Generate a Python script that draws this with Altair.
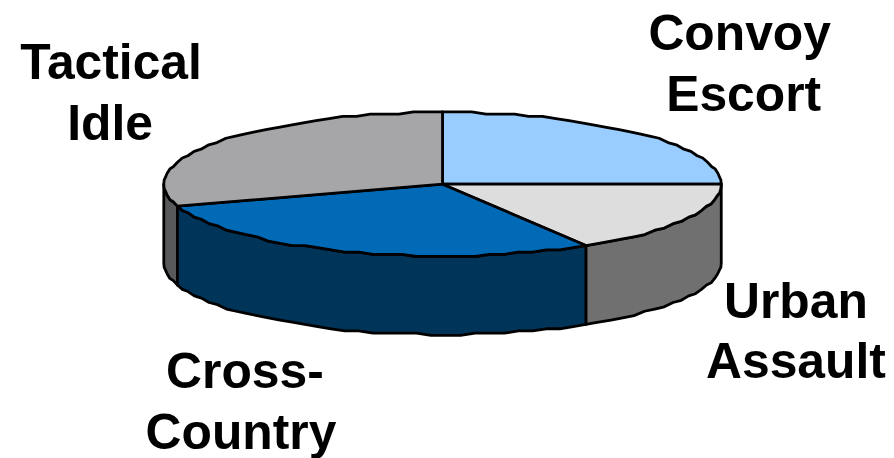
import math
import altair as alt

# --- chart values ---
categories = ["Convoy Escort", "Urban Assault", "Cross-Country", "Tactical Idle"]
shares = [25.0, 16.4, 28.6, 30.0]
top_colors = ["#99CCFF", "#DDDDDD", "#006AB7", "#A6A6A9"]
wall_colors = ["#99CCFF", "#707070", "#003459", "#58595B"]
label_lines = ["Convoy", "Escort", "Urban", "Assault", "Cross-", "Country", "Tactical", "Idle"]

# --- layout ---
W, H = 878, 442
CX, CY, RX, RY, DEPTH = 436.5, 176.0, 280.0, 72.0, 79.0
label_pos = [(735, 41), (739, 102), (791.5, 310), (791.5, 371), (238, 381), (234, 442), (103.5, 70), (102.5, 132)]
GRID = 2.2


def rim(t_deg, drop=0.0):
    t = math.radians(t_deg)
    x = CX + RX * math.sin(t)
    y = CY - RY * math.cos(t) + drop
    return [round(x, 1), round(y / GRID) * GRID]


def arc(a, b, drop=0.0):
    n = max(2, int(abs(b - a) / 3))
    return [rim(a + (b - a) * i / n, drop) for i in range(n + 1)]


edges = [0.0]
for s in shares:
    edges.append(edges[-1] + s / sum(shares) * 360)

tops, walls = [], []
for i, name in enumerate(categories):
    a, b = edges[i], edges[i + 1]
    ring = [[CX, CY]] + arc(a, b) + [[CX, CY]]
    tops.append({"type": "Feature", "properties": {"name": name},
                 "geometry": {"type": "Polygon", "coordinates": [ring]}})
    # only the front half of the drum can be seen
    va, vb = max(a, 90.0), min(b, 270.0)
    if vb > va:
        ring = arc(va, vb) + arc(vb, va, DEPTH)
        ring.append(ring[0])
        walls.append({"type": "Feature", "properties": {"name": name},
                      "geometry": {"type": "Polygon", "coordinates": [ring]}})

frame = [{"type": "Feature", "properties": {"name": "frame"},
          "geometry": {"type": "Polygon",
                       "coordinates": [[[0, 0], [W, 0], [W, H], [0, H], [0, 0]]]}}]
wall_order = {"Tactical Idle": 0, "Urban Assault": 1, "Cross-Country": 2}
walls.sort(key=lambda f: wall_order[f["properties"]["name"]])


def shape_layer(features, colors):
    return (
        alt.Chart(alt.Data(values=features))
        .mark_geoshape(stroke="#000000", strokeWidth=2.8, strokeJoin="round")
        .encode(color=alt.Color("properties.name:N",
                                scale=alt.Scale(domain=categories, range=colors),
                                legend=None))
        .project(type="identity")
    )


frame_layer = (
    alt.Chart(alt.Data(values=frame))
    .mark_geoshape(fill="transparent", stroke="transparent", strokeWidth=0)
    .project(type="identity")
)

layers = [frame_layer, shape_layer(walls, wall_colors), shape_layer(tops, top_colors)]
for line, (px, py) in zip(label_lines, label_pos):
    layers.append(
        alt.Chart(alt.Data(values=[{"label": line}]))
        .mark_text(font="Liberation Sans", fontWeight="bold", fontSize=50,
                   align="center", baseline="alphabetic", color="#000000")
        .encode(text="label:N", x=alt.value(px), y=alt.value(py))
    )

chart = (
    alt.layer(*layers)
    .resolve_scale(color="independent")
    .properties(width=W, height=H, padding=0, background="#FFFFFF")
    .configure_view(stroke=None)
)
chart.save("out.html", embed_options={"renderer": "svg", "actions": False})
